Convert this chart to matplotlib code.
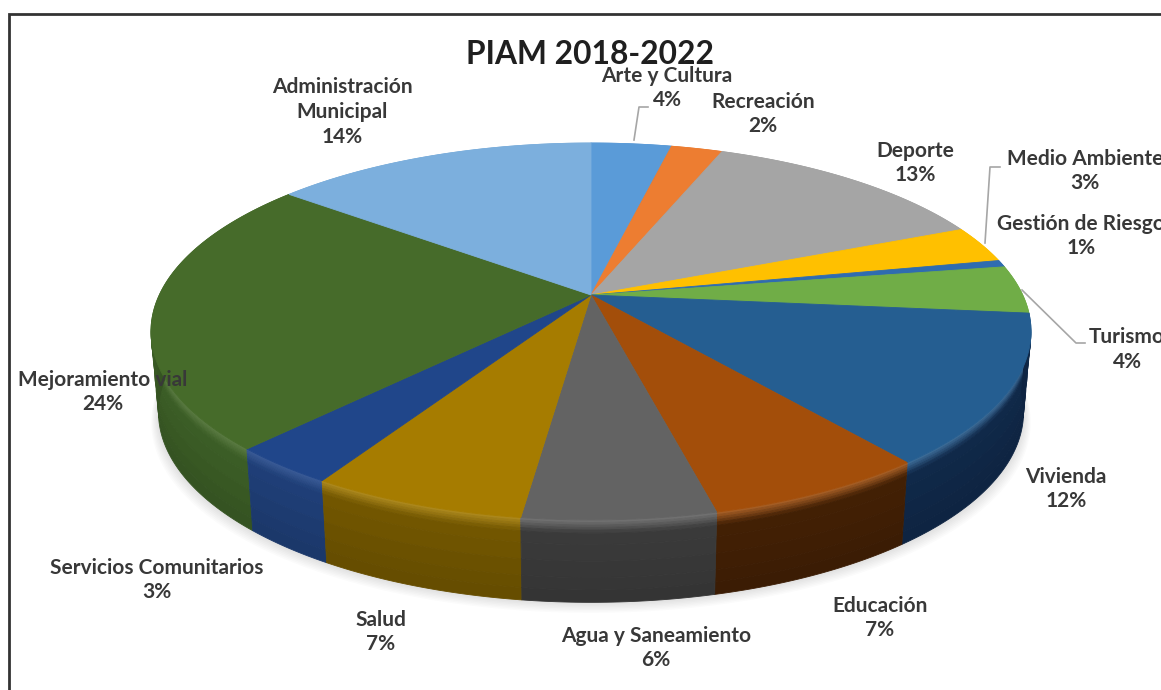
import matplotlib
matplotlib.use("Agg")
import matplotlib.pyplot as plt
from matplotlib.colors import to_rgb
import numpy as np

plt.rcParams["font.family"] = ["Lato", "DejaVu Sans"]

# Slices, clockwise from 12 o'clock
categories = ["Arte y Cultura", "Recreación", "Deporte", "Medio Ambiente", "Gestión de Riesgo",
              "Turismo", "Vivienda", "Educación", "Agua y Saneamiento", "Salud",
              "Servicios Comunitarios", "Mejoramiento vial", "Administración\nMunicipal"]
values = [3.56, 2.27, 12.83, 3.18, 0.6, 4.12, 12.77, 6.87, 5.9, 6.6, 3.3, 23.67, 14.33]
pct_labels = ["4%", "2%", "13%", "3%", "1%", "4%", "12%", "7%", "6%", "7%", "3%", "24%", "14%"]

top_colors = ["#5a9bd8", "#ed7d31", "#a5a5a5", "#ffc000", "#2f6cb0", "#70ad47", "#255e91",
              "#a34e0a", "#636363", "#a67c00", "#20468a", "#466b2a", "#7cafdd"]
wall_colors = ["#3a6a96", "#a55520", "#707070", "#b08400", "#1d4a7a", "#4c7730", "#10294a",
               "#432004", "#3b3b3b", "#735700", "#1f3f78", "#3c5e26", "#54789a"]

# label centres in pixels
label_pos = [(667, 88), (763, 114), (915, 163), (1085, 171), (1081, 236), (1127, 349), (1066, 489),
             (880, 618), (656, 648), (381, 632), (157, 580), (103, 392), (342, 112)]

# perspective of the pie
cx, cy = 591, 295
a, b, p = 431.7, 181.4, 0.1936
depth = 80

label_size = 15
label_color = "#383838"


def project(u, v):
    w = 1 - p * v
    return cx + a * u / w, cy + b * v / w


def rim(t0, t1):
    n = max(int((t1 - t0) * 90), 3)
    th = np.linspace(t0, t1, n)
    return np.sin(th), -np.cos(th)


def drop(x, v, t):
    # the wall point under a rim point, t=0 at top and t=1 at bottom
    return cx + (x - cx) * (1 - 0.017 * t), t * depth * (1 + 0.03 * v)


def mix(c1, c2, t):
    return tuple((1 - t) * np.array(to_rgb(c1)) + t * np.array(to_rgb(c2)))


fig = plt.figure(figsize=(11.61, 6.90), dpi=100)
ax = fig.add_axes([0, 0, 1, 1])
ax.set_xlim(0, 1161)
ax.set_ylim(690, 0)
ax.axis("off")

edges = np.concatenate([[0], np.cumsum(values)]) / np.sum(values) * 2 * np.pi

# soft shadow under the pie
u, v = rim(0, 2 * np.pi)
x, y = project(u, v)
xb, dyb = drop(x, v, 1)
for s in np.arange(1, 16, 2):
    ax.fill(cx + (xb - cx) * (1 + s / 900), y + dyb + s * 0.7, color="#808080", alpha=0.03, lw=0, zorder=1)

# side walls, back ones first
bands = [0, 0.03, 0.06, 0.09, 0.12, 0.16, 0.3, 0.5, 0.7, 0.85, 1]
order = np.argsort([-np.cos((edges[i] + edges[i + 1]) / 2) for i in range(len(values))])
for i in order:
    u, v = rim(edges[i], edges[i + 1])
    x, y = project(u, v)
    bevel = mix(top_colors[i], "#ffffff", 0.12)
    for t0, t1 in zip(bands[:-1], bands[1:]):
        xa, da = drop(x, v, t0)
        xc, dc = drop(x, v, t1)
        mid = (t0 + t1) / 2
        if mid < 0.16:
            col = mix(bevel, wall_colors[i], mid / 0.16)
        else:
            col = mix(wall_colors[i], "#000000", (mid - 0.16) * 0.15)
        ax.fill(np.r_[xa, xc[::-1]], np.r_[y + da, (y + dc)[::-1]], color=col, lw=0.6, zorder=2)

# top face
for i in range(len(values)):
    u, v = rim(edges[i], edges[i + 1])
    x, y = project(u, v)
    ax.fill(np.r_[cx, x], np.r_[cy, y], color=top_colors[i], lw=0.6, zorder=3)

# leader lines
leader_color = "#a6a6a6"
ax.plot([634, 639, 648], [140, 107, 107], color=leader_color, lw=1.2, zorder=4)
ax.plot([985, 990, 1000], [243, 167, 167], color=leader_color, lw=1.2, zorder=4)
ax.plot([1022, 1076, 1085], [290, 343, 343], color=leader_color, lw=1.2, zorder=4)

# labels
for cat, pct, (lx, ly) in zip(categories, pct_labels, label_pos):
    if cat == "Turismo":
        ax.text(1089, ly - 12, cat, ha="left", va="center", fontsize=label_size, weight="bold",
                color=label_color, zorder=5)
        ax.text(lx, ly + 13, pct, ha="center", va="center", fontsize=label_size, weight="bold",
                color=label_color, zorder=5)
        continue
    ax.text(lx, ly, f"{cat}\n{pct}", ha="center", va="center", fontsize=label_size, weight="bold",
            color=label_color, linespacing=1.3, zorder=5)

ax.text(590, 54, "PIAM 2018-2022", ha="center", va="center", fontsize=22.9, weight="bold", color="#1f1f1f", zorder=5)

# frame of the pasted picture: only left and top survive
ax.plot([9, 9, 1161], [690, 14, 14], color="#333333", lw=2, solid_joinstyle="miter", zorder=6)

fig.savefig("out.png", dpi=100)
plt.close(fig)
